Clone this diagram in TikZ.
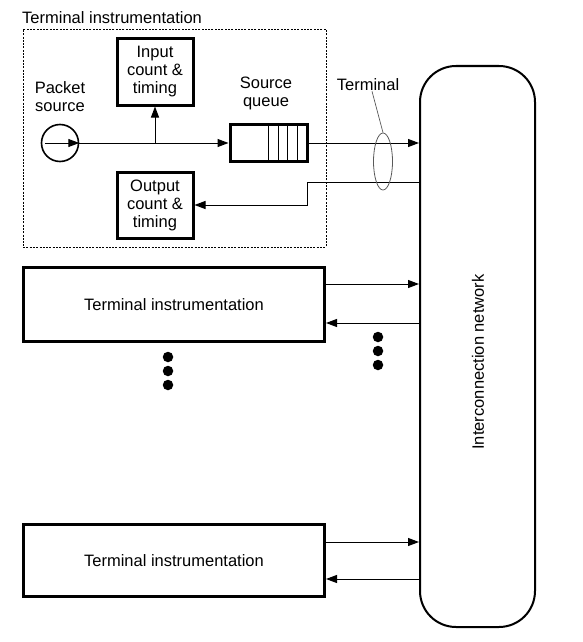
\documentclass[tikz,border=0pt]{standalone}
\usepackage{fontspec}
\setmainfont{Liberation Sans}
\usetikzlibrary{arrows.meta,shapes.geometric}
\begin{document}
\begin{tikzpicture}[x=1pt,y=-1pt,
  every node/.style={font=\fontsize{16.5}{18}\selectfont, align=center, inner sep=0pt},
  thickbox/.style={draw, line width=3pt, minimum width=#1},
  thin/.style={line width=1pt},
  arr/.style={thin, -{Triangle[length=11pt,width=8pt]}},
  dot/.style={circle, fill, minimum size=10.5pt}
]
\useasboundingbox (0,0) rectangle (583,642);

% dashed frame
\node[draw, line width=0.9pt, dash pattern=on 2pt off 1.3pt, minimum width=303pt, minimum height=218pt] (frame) at (174.5,138) {};
\node[anchor=west] (ftitle) at (22,18) {Terminal instrumentation};

% inner components
\node[thickbox=76pt, minimum height=66pt] (in) at (155,72) {Input\\count \&\\timing};
\node[thickbox=76pt, minimum height=66pt] (out) at (155,205) {Output\\count \&\\timing};
\node[draw, circle, line width=1.6pt, minimum size=37pt] (ps) at (60,143) {};
\node (pslab) at (60,97) {Packet\\source};
\node[thickbox=77pt, minimum height=37pt] (q) at (268.5,143) {};
\node (qlab) at (266,93) {Source\\queue};
\foreach \xx in {268,278,287,297}{
  \draw[thin] (\xx,126) -- (\xx,160);
}
\coordinate (psl) at (45,143);
\draw[arr] (psl) -- (ps.east);

% network
\node[draw, line width=2pt, rounded corners=36pt, minimum width=115pt, minimum height=561pt] (net) at (477.5,346.5) {};
\node[rotate=90] (netlab) at (478,362) {Interconnection network};

% connections in first terminal
\coordinate (br) at (in.south |- ps.east);
\draw[arr] (ps.east) -- (q.west);
\draw[arr] (br) -- (in.south);
\draw[arr] (q.east) -- (net.west |- q.east);
\coordinate (r1) at (307,182);
\coordinate (r2) at (307,205);
\draw[arr] (net.west |- r1) -- (r1) -- (r2) -- (out.east);

% terminal ellipse
\node[draw, gray!70!black, ellipse, line width=0.8pt, minimum width=19pt, minimum height=57pt] (ell) at (383,161.5) {};
\node (tlab) at (368,85) {Terminal};
\draw[gray!70!black, line width=0.7pt] ([xshift=4pt]tlab.south) -- (ell.north);

% other terminals
\node[thickbox=301pt, minimum height=74pt] (t2) at (174,304.5) {Terminal instrumentation};
\coordinate (a2) at (0,284);
\coordinate (b2) at (0,323);
\draw[arr] (t2.east |- a2) -- (net.west |- a2);
\draw[arr] (net.west |- b2) -- (t2.east |- b2);

\node[thickbox=301pt, minimum height=72pt] (t3) at (174,560.5) {Terminal instrumentation};
\coordinate (a3) at (0,542);
\coordinate (b3) at (0,579);
\draw[arr] (t3.east |- a3) -- (net.west |- a3);
\draw[arr] (net.west |- b3) -- (t3.east |- b3);

% ellipsis dots
\node[dot] (d1) at (168,357) {};
\node[dot] (d2) at (168,371) {};
\node[dot] (d3) at (168,385) {};
\node[dot] (e1) at (378,337) {};
\node[dot] (e2) at (378,351) {};
\node[dot] (e3) at (378,365) {};
\end{tikzpicture}
\end{document}
